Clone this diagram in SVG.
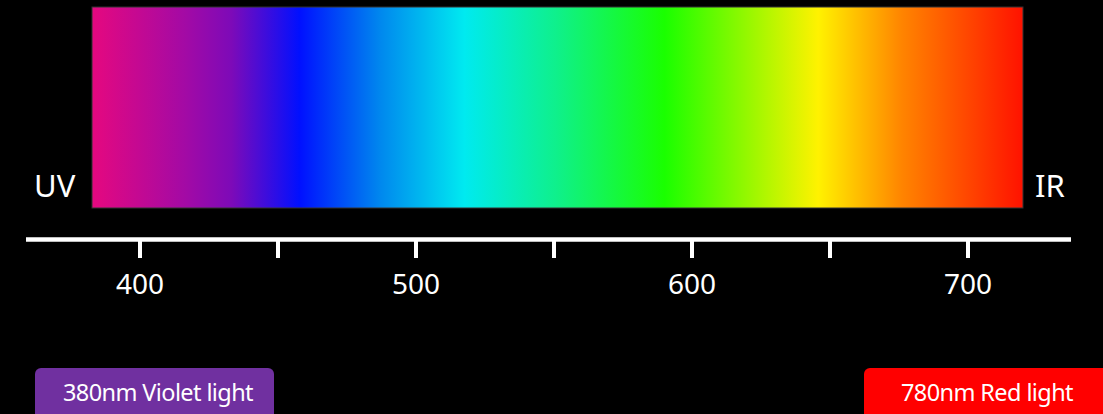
<svg xmlns="http://www.w3.org/2000/svg" width="1103" height="414" viewBox="0 0 1103 414">
<defs>
<linearGradient id="spec" x1="0" y1="0" x2="1" y2="0">
<stop offset="0" stop-color="#e5087f"/>
<stop offset="0.1" stop-color="#a30aa5"/>
<stop offset="0.15" stop-color="#7d0ab8"/>
<stop offset="0.223" stop-color="#0010ff"/>
<stop offset="0.31" stop-color="#0088ee"/>
<stop offset="0.40" stop-color="#00eaf0"/>
<stop offset="0.50" stop-color="#0ff08a"/>
<stop offset="0.615" stop-color="#1aff00"/>
<stop offset="0.70" stop-color="#90f800"/>
<stop offset="0.78" stop-color="#fff200"/>
<stop offset="0.87" stop-color="#ff8400"/>
<stop offset="1" stop-color="#ff1200"/>
</linearGradient>
<style>
.lbl{font-family:"Noto Sans","Liberation Sans",sans-serif;fill:#fff}
.tick{stroke:#fff;stroke-width:4}
.btn{font-size:23.5px;letter-spacing:-0.6px}
</style>
</defs>
<rect width="1103" height="414" fill="#000"/>
<g id="spectrum">
<rect x="92" y="7" width="931" height="201" fill="url(#spec)" stroke="#333" stroke-width="1"/>
</g>
<g id="uv"><text class="lbl" x="34" y="197" font-size="31">UV</text></g>
<g id="ir"><text class="lbl" x="1035" y="197" font-size="31">IR</text></g>
<g id="axis">
<line x1="26" y1="239.5" x2="1071" y2="239.5" stroke="#fff" stroke-width="4.5"/>
<line class="tick" x1="140" y1="240" x2="140" y2="258"/>
<line class="tick" x1="278" y1="240" x2="278" y2="258"/>
<line class="tick" x1="416" y1="240" x2="416" y2="258"/>
<line class="tick" x1="554" y1="240" x2="554" y2="258"/>
<line class="tick" x1="692" y1="240" x2="692" y2="258"/>
<line class="tick" x1="830" y1="240" x2="830" y2="258"/>
<line class="tick" x1="968" y1="240" x2="968" y2="258"/>
<text class="lbl" x="140" y="294" font-size="28" text-anchor="middle">400</text>
<text class="lbl" x="416" y="294" font-size="28" text-anchor="middle">500</text>
<text class="lbl" x="692" y="294" font-size="28" text-anchor="middle">600</text>
<text class="lbl" x="968" y="294" font-size="28" text-anchor="middle">700</text>
</g>
<g id="violet">
<rect x="35" y="368" width="239" height="56" rx="6" fill="#7030a0"/>
<text class="lbl btn" x="158" y="401" text-anchor="middle">380nm Violet light</text>
</g>
<g id="red">
<rect x="864" y="368" width="250" height="56" rx="6" fill="#ff0000"/>
<text class="lbl btn" x="987" y="401" text-anchor="middle">780nm Red light</text>
</g>
</svg>
